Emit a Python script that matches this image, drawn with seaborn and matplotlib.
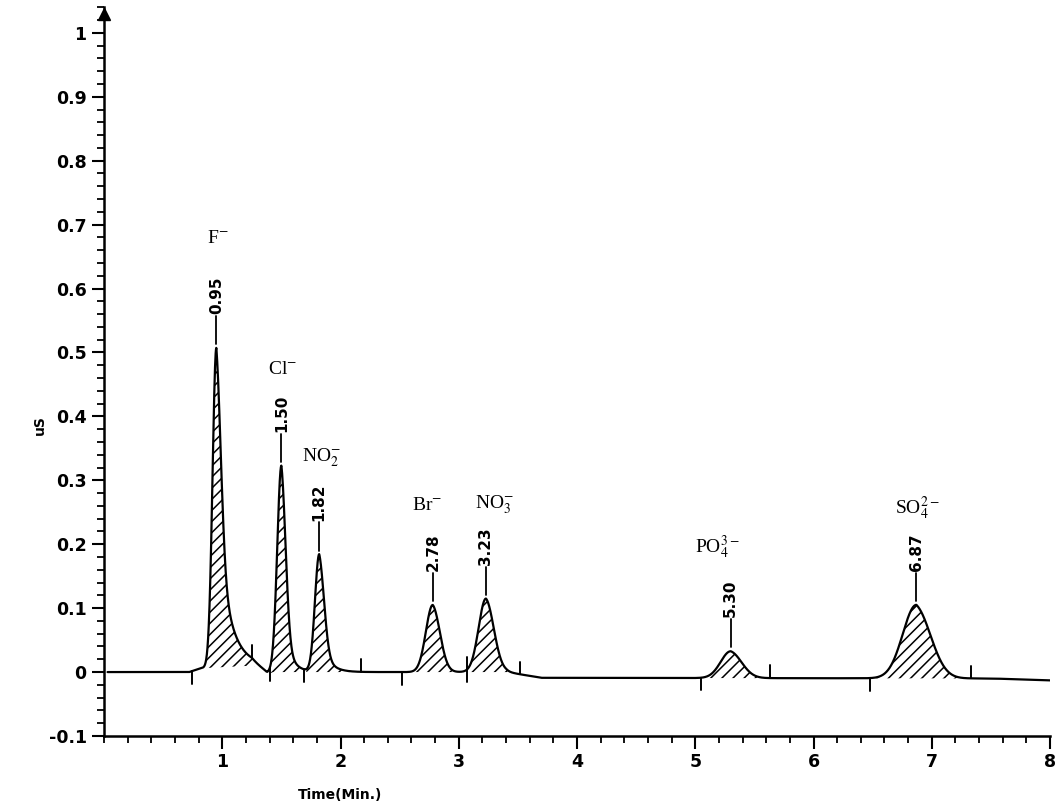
import numpy as np
import pandas as pd
import matplotlib
matplotlib.use("Agg")
import matplotlib.pyplot as plt
from matplotlib.ticker import MultipleLocator, FuncFormatter
import seaborn as sns

# peaks
ions = [r"F$^{-}$", r"Cl$^{-}$", r"NO$_2^{-}$", r"Br$^{-}$", r"NO$_3^{-}$", r"PO$_4^{3-}$", r"SO$_4^{2-}$"]
ret_times = [0.95, 1.50, 1.82, 2.78, 3.23, 5.30, 6.87]
ret_labels = ["0.95", "1.50", "1.82", "2.78", "3.23", "5.30", "6.87"]
heights = [0.50, 0.322, 0.184, 0.105, 0.115, 0.042, 0.115]
sigma_left = [0.032, 0.035, 0.036, 0.058, 0.062, 0.085, 0.115]
sigma_right = [0.040, 0.037, 0.042, 0.062, 0.068, 0.095, 0.125]
tail_frac = [0.5, 0.3, 0.3, 0.1, 0.1, 0.1, 0.1]
tail_tau = [0.10, 0.06, 0.07, 0.05, 0.06, 0.06, 0.06]
win_start = [0.84, 1.40, 1.71, 2.60, 3.05, 5.08, 6.52]
win_end = [1.27, 1.69, 2.08, 2.98, 3.48, 5.60, 7.28]

# baseline drift
base_t = [0.0, 0.72, 0.82, 1.25, 1.33, 1.38, 1.43, 3.40, 3.70, 7.50, 8.0]
base_v = [0.0, 0.0, 0.006, 0.010, 0.002, -0.004, 0.0, 0.0, -0.009, -0.010, -0.013]

# integration marks (1 up, -1 down, 0 both)
mark_t = [0.74, 1.25, 1.40, 1.69, 2.17, 2.52, 3.07, 3.52, 5.05, 5.63, 6.48, 7.33]
mark_dir = [-1, 1, -1, -1, 1, -1, 0, 1, -1, 1, -1, 1]

# ion label positions
ion_x = [0.96, 1.51, 1.84, 2.73, 3.30, 5.19, 6.88]
ion_y = [0.679, 0.473, 0.335, 0.261, 0.261, 0.196, 0.257]


def peak(t, t0, h, sl, sr, a, tau):
    d = t - t0
    left = np.exp(-0.5 * (d / sl) ** 2)
    right = (1 - a) * np.exp(-0.5 * (d / sr) ** 2) + a * np.exp(-np.clip(d, 0, None) / tau)
    return h * np.where(d < 0, left, right)


t = np.linspace(0.03, 8.0, 6000)
baseline = np.interp(t, base_t, base_v)
signal = baseline.copy()
for i in range(len(ret_times)):
    signal += peak(t, ret_times[i], heights[i], sigma_left[i], sigma_right[i], tail_frac[i], tail_tau[i])

df = pd.DataFrame({"time": t, "signal": signal})

sns.set_style("ticks")
plt.rcParams["font.family"] = ["DejaVu Sans"]
plt.rcParams["mathtext.fontset"] = "stix"
plt.rcParams["axes.unicode_minus"] = False
plt.rcParams["hatch.linewidth"] = 1.1
for k in ["text.color", "axes.labelcolor", "xtick.color", "ytick.color", "axes.edgecolor"]:
    plt.rcParams[k] = "black"

fig = plt.figure(figsize=(10.55, 8.07), dpi=100)
ax = fig.add_axes([0.0986, 0.088, 0.8967, 0.903])

# hatched peak areas
for i in range(len(ret_times)):
    m = (t >= win_start[i]) & (t <= win_end[i])
    ax.fill_between(t[m], baseline[m], signal[m], facecolor="white", edgecolor="black",
                    hatch="///", linewidth=0)

sns.lineplot(data=df, x="time", y="signal", color="black", linewidth=1.6,
             errorbar=None, ax=ax, sort=False)

# integration marks
for mt, md in zip(mark_t, mark_dir):
    yb = np.interp(mt, t, signal)
    lo = yb - 0.02 if md <= 0 else yb
    hi = yb + 0.02 if md >= 0 else yb
    ax.plot([mt, mt], [lo, hi], color="black", linewidth=1.4)

# retention time labels and ion names
for i in range(len(ret_times)):
    top = heights[i] + np.interp(ret_times[i], base_t, base_v)
    ax.plot([ret_times[i], ret_times[i]], [top + 0.006, top + 0.05], color="black", linewidth=1.3)
    ax.text(ret_times[i], top + 0.053, ret_labels[i], rotation=90, ha="center", va="bottom",
            fontsize=11, fontweight="bold", family="DejaVu Sans")
    ax.text(ion_x[i], ion_y[i], ions[i], ha="center", va="center", fontsize=14,
            family="Liberation Serif")

ax.set_xlim(0, 8)
ax.set_ylim(-0.1, 1.04)
ax.set_xticks([1, 2, 3, 4, 5, 6, 7, 8])
ax.xaxis.set_minor_locator(MultipleLocator(0.2))
ax.yaxis.set_major_locator(MultipleLocator(0.1))
ax.yaxis.set_minor_locator(MultipleLocator(0.02))
ax.yaxis.set_major_formatter(FuncFormatter(lambda v, p: f"{round(v, 1) + 0.0:g}"))
ax.xaxis.set_major_formatter(FuncFormatter(lambda v, p: f"{v:g}"))

ax.tick_params(axis="both", which="major", direction="out", length=9, width=1.5,
               labelsize=12.5)
ax.tick_params(axis="both", which="minor", direction="out", length=5, width=1.3)
for lab in ax.get_xticklabels() + ax.get_yticklabels():
    lab.set_fontweight("bold")

sns.despine(ax=ax)
ax.spines["left"].set_linewidth(1.8)
ax.spines["bottom"].set_linewidth(1.8)
ax.plot(0, 1.03, marker="^", color="black", markersize=9, clip_on=False)

ax.set_xlabel("Time(Min.)", fontsize=10, fontweight="bold")
ax.set_ylabel("uS", fontsize=10, fontweight="bold")
ax.xaxis.set_label_coords(0.249, -0.071)
ax.yaxis.set_label_coords(-0.060, 0.427)

fig.savefig("out.png", dpi=100)
